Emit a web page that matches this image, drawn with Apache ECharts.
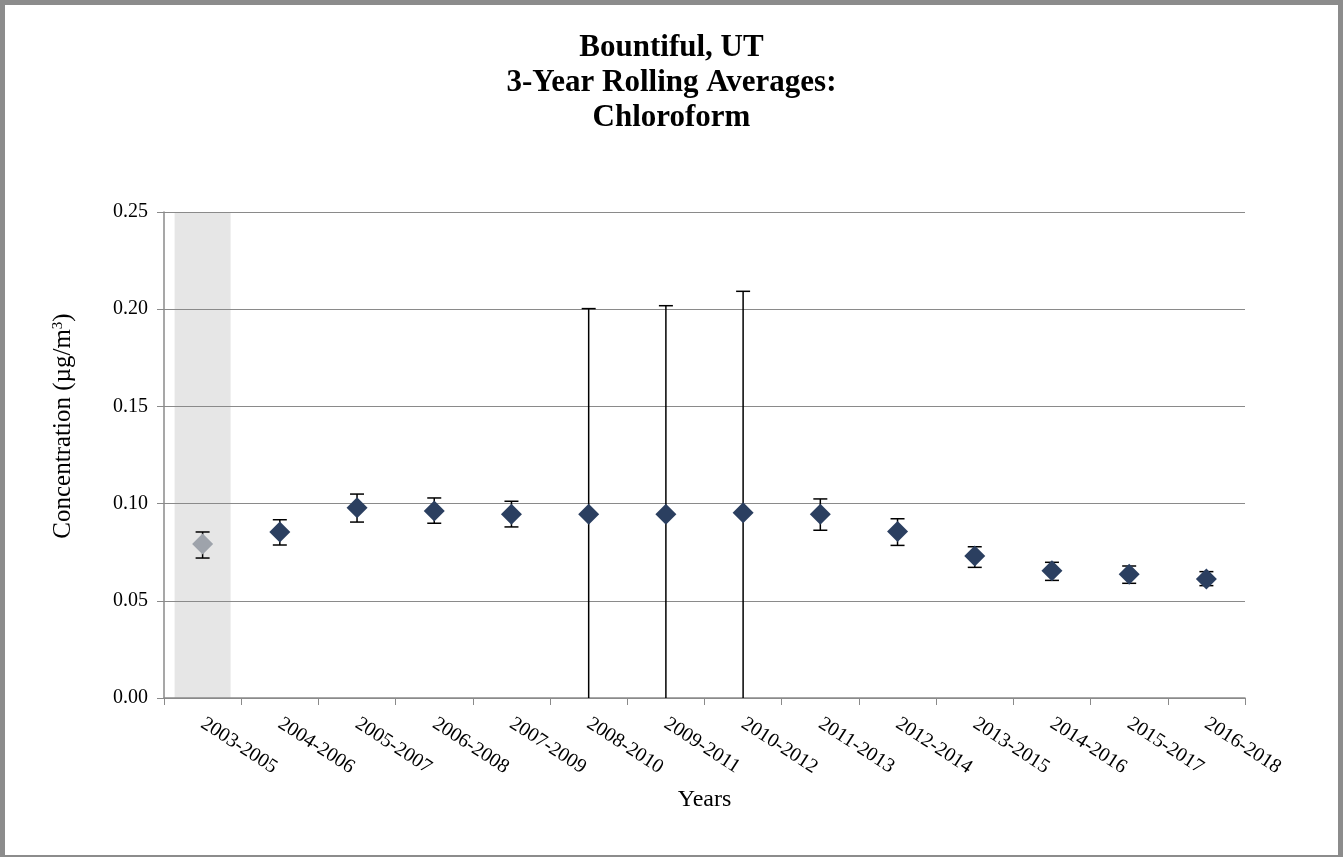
<!DOCTYPE html>
<html>
<head>
<meta charset="utf-8">
<title>Bountiful, UT - Chloroform</title>
<script src="https://cdn.jsdelivr.net/npm/echarts@6/dist/echarts.min.js"></script>
<style>
    html, body { margin: 0; padding: 0; background: #fff; }
    #frame {
        position: absolute; left: 0; top: 0;
        width: 1343px; height: 857px;
        box-sizing: border-box;
        border-style: solid; border-color: #8c8c8c;
        border-width: 5px 5px 2px 5px;
    }
    #main { position: absolute; left: 0; top: 0; width: 1343px; height: 857px; }
</style>
</head>
<body>
<div id="main"></div>
<div id="frame"></div>
<script>
// 年份区间
var categories = ['2003-2005', '2004-2006', '2005-2007', '2006-2008', '2007-2009',
    '2008-2010', '2009-2011', '2010-2012', '2011-2013', '2012-2014',
    '2013-2015', '2014-2016', '2015-2017', '2016-2018'];

// 3年滚动平均值 (µg/m³)
var averages = [0.0792, 0.0854, 0.0979, 0.0962, 0.0945, 0.0945, 0.0945, 0.0953,
    0.0945, 0.0856, 0.0730, 0.0655, 0.0636, 0.0612];

// 误差线上下限
var lowerBounds = [0.0720, 0.0787, 0.0905, 0.0899, 0.0880, 0.0, 0.0, 0.0,
    0.0863, 0.0785, 0.0672, 0.0605, 0.0590, 0.0578];
var upperBounds = [0.0854, 0.0917, 0.1049, 0.1029, 0.1012, 0.2003, 0.2018, 0.2092,
    0.1024, 0.0922, 0.0778, 0.0698, 0.0679, 0.0650];

// 灰色背景区间 (不完整数据)
var shadedCategories = ['2003-2005'];
var yTicks = { min: 0, max: 0.25, interval: 0.05 };

var serif = '"Liberation Serif", "DejaVu Serif", serif';

var myChart = echarts.init(document.getElementById('main'));

let bandData = [];
let pointData = [];
let errorData = [];
for (let i = 0; i < categories.length; i++) {
    let shaded = shadedCategories.indexOf(categories[i]) >= 0;
    bandData.push(shaded ? yTicks.max : null);
    pointData.push({
        value: averages[i],
        itemStyle: { color: shaded ? '#9ea3ab' : '#2b3f60' }
    });
    errorData.push([i, lowerBounds[i], upperBounds[i]]);
}

let option = {
    animation: false,
    title: {
        text: 'Bountiful, UT\n3-Year Rolling Averages:\nChloroform',
        left: 'center',
        top: 25,
        textStyle: {
            fontFamily: serif,
            fontWeight: 'bold',
            fontSize: 31,
            lineHeight: 35,
            color: '#000'
        }
    },
    grid: {
        left: 164,
        right: 98,
        top: 212,
        bottom: 159
    },
    xAxis: {
        type: 'category',
        data: categories,
        boundaryGap: true,
        name: 'Years',
        nameLocation: 'middle',
        nameGap: 90,
        nameTextStyle: { fontFamily: serif, fontSize: 24, color: '#000' },
        axisLine: { lineStyle: { color: '#8a8a8a', width: 1.5 } },
        axisTick: { show: true, length: 7, lineStyle: { color: '#8a8a8a' } },
        axisLabel: {
            rotate: -33,
            interval: 0,
            margin: 24,
            fontFamily: serif,
            fontSize: 20,
            color: '#000'
        },
        splitLine: { show: false }
    },
    yAxis: {
        type: 'value',
        min: yTicks.min,
        max: yTicks.max,
        interval: yTicks.interval,
        name: '{n|Concentration (µg/m}{s|3}{n|)}',
        nameLocation: 'middle',
        nameGap: 88,
        nameTextStyle: {
            padding: [0, 0, 0, 58],
            rich: {
                n: { fontFamily: serif, fontSize: 25, color: '#000' },
                s: { fontFamily: serif, fontSize: 15, color: '#000', verticalAlign: 'top', padding: [0, 0, 10, 0] }
            }
        },
        axisLine: { show: true, lineStyle: { color: '#8a8a8a', width: 1.5 } },
        axisTick: { show: true, length: 7, lineStyle: { color: '#8a8a8a' } },
        axisLabel: {
            margin: 16,
            fontFamily: serif,
            fontSize: 20,
            color: '#000',
            formatter: function(v) { return v.toFixed(2); }
        },
        splitLine: { show: true, lineStyle: { color: '#8a8a8a', width: 1.2 } }
    },
    series: [{
        name: 'band',
        type: 'bar',
        data: bandData,
        barWidth: 56,
        silent: true,
        z: -1,
        itemStyle: { color: '#e6e6e6' }
    }, {
        name: 'error',
        type: 'custom',
        data: errorData,
        z: 3,
        renderItem: function(params, api) {
            let x = api.value(0);
            let lo = api.coord([x, api.value(1)]);
            let hi = api.coord([x, api.value(2)]);
            let half = 7;
            let style = { stroke: '#000', lineWidth: 1.5 };
            let children = [
                { type: 'line', shape: { x1: lo[0], y1: lo[1], x2: hi[0], y2: hi[1] }, style: style },
                { type: 'line', shape: { x1: hi[0] - half, y1: hi[1], x2: hi[0] + half, y2: hi[1] }, style: style }
            ];
            // 下限为0时不画横线 (与坐标轴重合)
            if (api.value(1) > yTicks.min) {
                children.push({ type: 'line', shape: { x1: lo[0] - half, y1: lo[1], x2: lo[0] + half, y2: lo[1] }, style: style });
            }
            return { type: 'group', children: children };
        }
    }, {
        name: 'average',
        type: 'scatter',
        data: pointData,
        symbol: 'diamond',
        symbolSize: [21, 21],
        itemStyle: { opacity: 1 },
        z: 4
    }]
};
myChart.setOption(option);
</script>
</body>
</html>
